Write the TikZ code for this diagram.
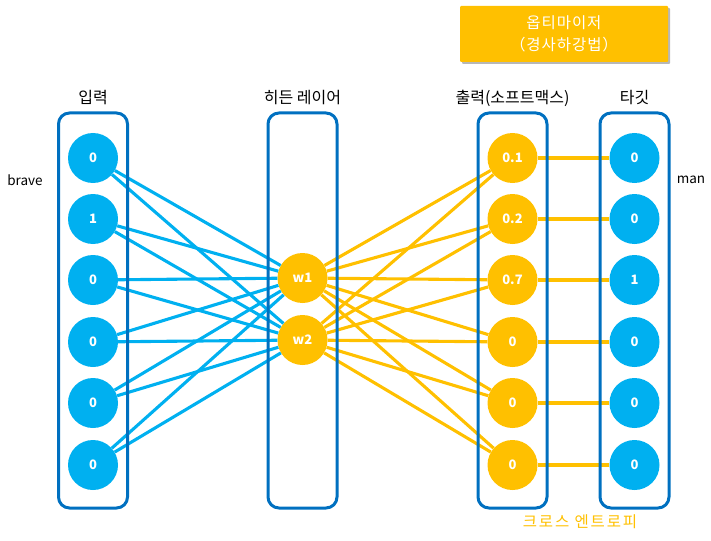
\documentclass[tikz,border=0pt]{standalone}
\usepackage{fontspec}
\setmainfont{Noto Sans CJK KR}
\newfontfamily\krwide[LetterSpace=6]{Noto Sans CJK KR}
\newfontfamily\krwider[LetterSpace=12]{Noto Sans CJK KR}
\usetikzlibrary{shadows}
\definecolor{cblue}{HTML}{00B0F0}
\definecolor{cyel}{HTML}{FFC000}
\definecolor{cbox}{HTML}{0070C0}
\begin{document}
\begin{tikzpicture}[x=1pt,y=-1pt,
  col/.style={draw=cbox,line width=3pt,rounded corners=11pt,minimum width=69pt,minimum height=395pt,inner sep=0pt},
  bn/.style={circle,fill=cblue,minimum size=50pt,inner sep=0pt,text=white,font=\fontsize{13}{15}\selectfont\bfseries},
  yn/.style={circle,fill=cyel,minimum size=50pt,inner sep=0pt,text=white,font=\fontsize{13}{15}\selectfont\bfseries},
  lab/.style={font=\fontsize{16}{18}\selectfont},
  lat/.style={font=\fontsize{13.5}{16}\selectfont},
  bl/.style={draw=cblue,line width=3.1pt},
  yl/.style={draw=cyel,line width=3.1pt}]
\useasboundingbox (0,0) rectangle (711,540);
% labels
\node[lab] (lin) at (93,98) {입력};
\node[lab] (lhid) at (302.5,98) {히든 레이어};
\node[lab] (lout) at (512.5,98) {출력(소프트맥스)};
\node[lab] (ltgt) at (634.5,98) {타깃};
\node[lat] (brave) at (25,180) {brave};
\node[lat] (man) at (691,180) {man};
\node[text=cyel,font=\krwider\fontsize{15.5}{18}\selectfont] (ce) at (580,522) {크로스 엔트로피};
% optimizer
\node[fill=cyel,minimum width=208pt,minimum height=56pt,text=white,align=center,
  font=\krwide\fontsize{15.5}{22}\selectfont,drop shadow={shadow xshift=2pt,shadow yshift=-2pt,fill=black!40,opacity=0.7},rounded corners=1pt] (opt) at (564,34) {옵티마이저\\（경사하강법）};
% input nodes
\foreach \i/\y/\t in {1/158/0,2/219/1,3/280/0,4/342/0,5/403/0,6/465/0}{
  \node[bn] (i\i) at (93,\y) {\t};
}
\node[yn] (w1) at (302.5,278) {w1};
\node[yn] (w2) at (302.5,340) {w2};
\foreach \i/\y/\t in {1/158/0.1,2/219/0.2,3/280/0.7,4/342/0,5/403/0,6/465/0}{
  \node[yn] (o\i) at (512.5,\y) {\t};
}
\foreach \i/\y/\t in {1/158/0,2/219/0,3/280/1,4/342/0,5/403/0,6/465/0}{
  \node[bn] (t\i) at (634.5,\y) {\t};
}
% connectors
\foreach \i in {1,...,6}{
  \foreach \w in {w1,w2}{
    \draw[bl] (i\i) -- (\w);
    \draw[yl] (\w) -- (o\i);
  }
  \draw[yl] (o\i) -- (t\i);
}
% columns (drawn over the connectors)
\node[col] (cin) at (93,310.5) {};
\node[col] (chid) at (302.5,310.5) {};
\node[col] (cout) at (512.5,310.5) {};
\node[col] (ctgt) at (634.5,310.5) {};
\end{tikzpicture}
\end{document}
